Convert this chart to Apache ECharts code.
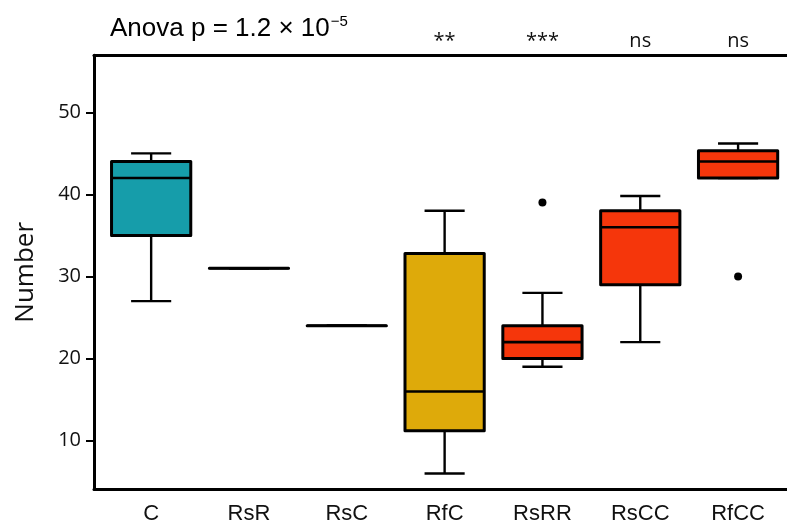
<!DOCTYPE html>
<html>
<head>
<meta charset="utf-8">
<script src="https://cdn.jsdelivr.net/npm/echarts@6/dist/echarts.min.js"></script>
<style>
  html, body { margin: 0; padding: 0; background: #fff; }
  #chart { width: 787px; height: 527px; }
</style>
</head>
<body>
<div id="chart"></div>
<script>
// groups on the x axis
var categories = ['C', 'RsR', 'RsC', 'RfC', 'RsRR', 'RsCC', 'RfCC'];
// box statistics
var lowWhisker  = [27, 31, 24, 6,    19, 22,   42];
var q1          = [35, 31, 24, 11.2, 20, 29,   42];
var median      = [42, 31, 24, 16,   22, 36,   44];
var q3          = [44, 31, 24, 32.8, 24, 38,   45.3];
var highWhisker = [45, 31, 24, 38,   28, 39.8, 46.2];
// outlier points
var outlierGroup = ['RsRR', 'RfCC'];
var outlierValue = [39, 30];
// significance marks above each group
var sigLabels = ['', '', '', '**', '***', 'ns', 'ns'];
// y ticks
var yTicks = [10, 20, 30, 40, 50];

var fillColors = ['#169DAA', '#ffffff', '#ffffff', '#DEAA0A', '#F5360B', '#F5360B', '#F5360B'];

var Y_MIN = 4.08, Y_MAX = 56.94;

var boxData = categories.map(function (c, i) {
    return [i, lowWhisker[i], q1[i], median[i], q3[i], highWhisker[i]];
});
var outlierData = outlierGroup.map(function (g, i) {
    return [g, outlierValue[i]];
});

function renderBox(params, api) {
    var x = api.value(0);
    var band = api.size([1, 0])[0];
    var boxW = band * 0.81;
    var capW = band * 0.41;
    var pLow = api.coord([x, api.value(1)]);
    var pQ1 = api.coord([x, api.value(2)]);
    var pMed = api.coord([x, api.value(3)]);
    var pQ3 = api.coord([x, api.value(4)]);
    var pHigh = api.coord([x, api.value(5)]);
    var cx = pMed[0];
    var line = { stroke: '#000', lineWidth: 2.4 };
    return {
        type: 'group',
        children: [
            { type: 'line', shape: { x1: cx, y1: pQ3[1], x2: cx, y2: pHigh[1] }, style: line },
            { type: 'line', shape: { x1: cx, y1: pQ1[1], x2: cx, y2: pLow[1] }, style: line },
            { type: 'line', shape: { x1: cx - capW / 2, y1: pHigh[1], x2: cx + capW / 2, y2: pHigh[1] }, style: line },
            { type: 'line', shape: { x1: cx - capW / 2, y1: pLow[1], x2: cx + capW / 2, y2: pLow[1] }, style: line },
            {
                type: 'rect',
                shape: { x: cx - boxW / 2, y: pQ3[1], width: boxW, height: pQ1[1] - pQ3[1] },
                style: { fill: fillColors[params.dataIndex], stroke: '#000', lineWidth: 3, lineJoin: 'round' }
            },
            { type: 'line', shape: { x1: cx - boxW / 2, y1: pMed[1], x2: cx + boxW / 2, y2: pMed[1] }, style: { stroke: '#000', lineWidth: 2.6 } }
        ]
    };
}

var chart = echarts.init(document.getElementById('chart'));

chart.setOption({
    animation: false,
    backgroundColor: '#fff',
    title: {
        text: '{m|Anova p = 1.2 × 10}{s|−5}',
        left: 105,
        top: 9,
        textStyle: {
            rich: {
                m: { fontFamily: 'Liberation Sans', fontWeight: 'normal', fontSize: 26, color: '#000', lineHeight: 30 },
                s: { fontFamily: 'Liberation Sans', fontWeight: 'normal', fontSize: 15, color: '#000', verticalAlign: 'top', lineHeight: 30, padding: [0, 0, 0, 1] }
            }
        }
    },
    grid: [
        { left: 102.24, right: -1.9, top: 55.3, bottom: 37.7 },
        { left: 94, right: -1.9, top: 55.3, bottom: 37.7 }
    ],
    xAxis: [
        {
            type: 'category', gridIndex: 0, data: categories, position: 'bottom',
            boundaryGap: true,
            axisLine: { show: false }, axisTick: { show: false },
            axisLabel: { margin: 14, fontFamily: 'Liberation Sans', fontSize: 22, color: '#111' }
        },
        {
            type: 'category', gridIndex: 0, data: categories, position: 'top',
            boundaryGap: true,
            axisLine: { show: false }, axisTick: { show: false },
            axisLabel: {
                margin: 4, fontFamily: 'Open Sans', fontSize: 20, color: '#111',
                formatter: function (v, i) { return sigLabels[i]; }
            }
        },
        {
            type: 'value', gridIndex: 1, min: 0, max: 1, position: 'bottom',
            axisLine: { lineStyle: { color: '#000', width: 3 } },
            axisTick: { show: false }, axisLabel: { show: false }, splitLine: { show: false }
        },
        {
            type: 'value', gridIndex: 1, min: 0, max: 1, position: 'top',
            axisLine: { lineStyle: { color: '#000', width: 3 } },
            axisTick: { show: false }, axisLabel: { show: false }, splitLine: { show: false }
        }
    ],
    yAxis: [
        {
            type: 'value', gridIndex: 0, min: Y_MIN, max: Y_MAX,
            show: false, splitLine: { show: false }
        },
        {
            type: 'value', gridIndex: 1, min: Y_MIN, max: Y_MAX,
            name: 'Number', nameLocation: 'middle', nameGap: 55,
            nameTextStyle: { fontFamily: 'Open Sans', fontSize: 26, color: '#111' },
            axisLine: { show: true, lineStyle: { color: '#000', width: 3 } },
            axisTick: { show: true, length: 8, lineStyle: { color: '#000', width: 2 }, customValues: yTicks },
            axisLabel: { margin: 13, fontFamily: 'Open Sans', fontSize: 20, color: '#111', customValues: yTicks },
            splitLine: { show: false }
        }
    ],
    series: [
        {
            type: 'custom',
            xAxisIndex: 0, yAxisIndex: 0,
            renderItem: renderBox,
            encode: { x: 0, y: [1, 2, 3, 4, 5] },
            data: boxData,
            z: 2
        },
        {
            type: 'scatter',
            xAxisIndex: 0, yAxisIndex: 0,
            symbol: 'circle', symbolSize: 8,
            itemStyle: { color: '#000', opacity: 1 },
            data: outlierData,
            z: 3
        }
    ]
});
</script>
</body>
</html>
